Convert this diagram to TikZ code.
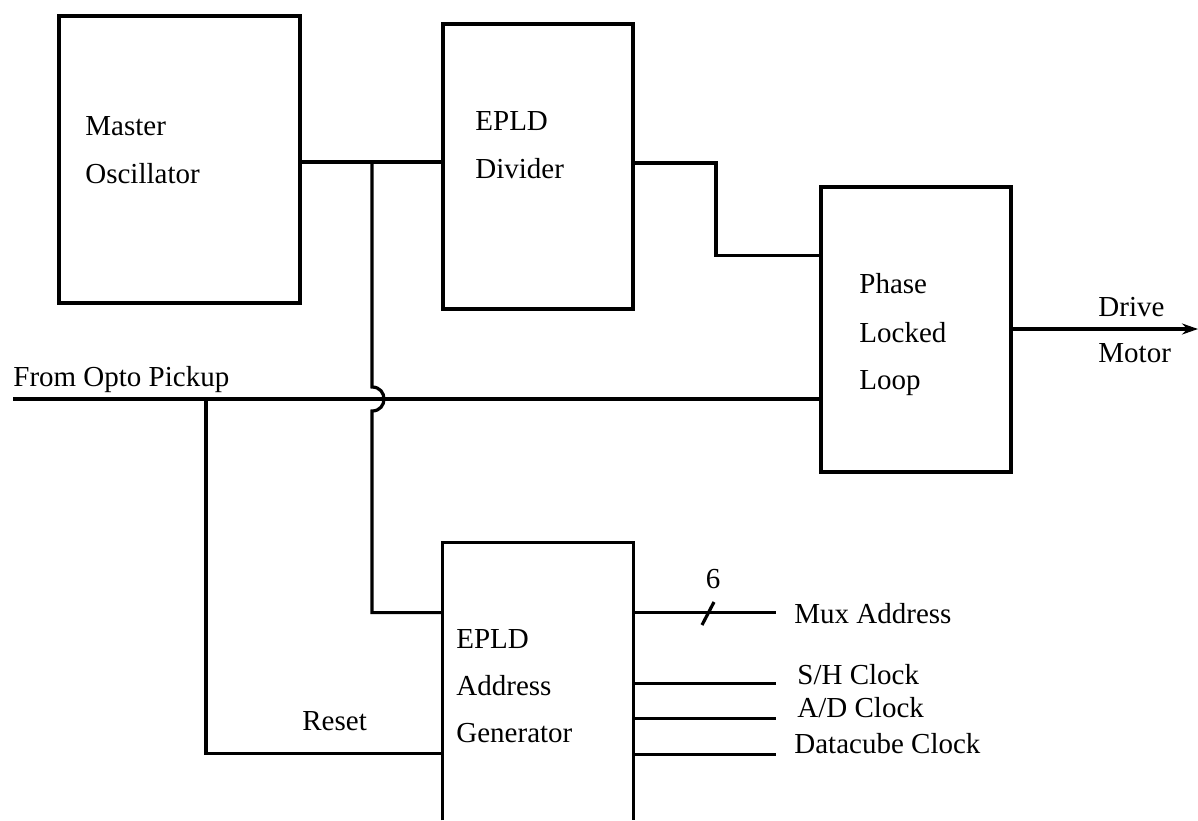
\documentclass[tikz,border=0pt]{standalone}
\usepackage{fontspec}
\setmainfont{Liberation Serif}
\usepackage{tikz}
\usetikzlibrary{positioning,arrows.meta}
\tikzset{
  blk/.style={rectangle, draw=black, line width=1.6pt, inner sep=0pt},
  openblk/.style={rectangle, inner sep=0pt},
  lbl/.style={anchor=base west, inner sep=0pt, font=\fontsize{14.5}{16}\selectfont},
  wire/.style={draw=black, line width=1.6pt},
  outw/.style={draw=black, line width=1.6pt, -{Stealth[length=8pt,width=5.5pt]}},
  hop/.style={draw=black, line width=1.6pt}
}

\begin{document}
\begin{tikzpicture}[x=0.5pt, y=-0.5pt]
  \useasboundingbox (0,0) rectangle (1198,820);
  % blocks
  \node[blk, minimum width=120.5pt, minimum height=143.5pt] (osc) at (179.5,159.5) {};
  \node[blk, minimum width=95pt, minimum height=142.5pt] (div) at (538,166.5) {};
  \node[blk, minimum width=95pt, minimum height=142.5pt] (pll) at (916,329.5) {};
  \node[openblk, minimum width=95pt, minimum height=138.5pt] (agen) at (538,681.5) {};
  \draw[wire] (agen.south west) -- (agen.north west) -- (agen.north east) -- (agen.south east);
  % block texts
  \node[lbl] (oscA) at (85,135) {Master};
  \node[lbl] (oscB) at (85,183) {Oscillator};
  \node[lbl] (divA) at (475,130) {EPLD};
  \node[lbl] (divB) at (475,178) {Divider};
  \node[lbl] (pllA) at (859,293) {Phase};
  \node[lbl] (pllB) at (859,342) {Locked};
  \node[lbl] (pllC) at (859,389) {Loop};
  \node[lbl] (agA) at (456,648) {EPLD};
  \node[lbl] (agB) at (456,695) {Address};
  \node[lbl] (agC) at (456,742) {Generator};
  % signal names
  \node[lbl] (drv) at (1098,316) {Drive};
  \node[lbl] (mot) at (1098,362) {Motor};
  \node[lbl] (opto) at (13,386) {From Opto Pickup};
  \node[lbl] (rst) at (302,730) {Reset};
  \node[lbl, anchor=base] (bus) at (713,588) {6};
  \node[lbl] (mux) at (794,623) {Mux Address};
  \node[lbl] (sh) at (797,684) {S/H Clock};
  \node[lbl] (ad) at (797,717) {A/D Clock};
  \node[lbl] (dc) at (794,753) {Datacube Clock};
  % junctions
  \coordinate (tap) at (372,162);
  \coordinate (optoin) at (13,399);
  \coordinate (rtap) at (206,399);
  \coordinate (hopT) at (372,387);
  \coordinate (hopB) at (372,411);
  \coordinate (bend) at (716,163);
  \coordinate (motor) at (1198,329);
  \coordinate (slash) at (708,613);
  % wires
  \draw[wire] (osc.east |- tap) -- (tap -| div.west);
  \draw[hop] (tap) -- (hopT) .. controls +(16,0) and +(16,0) .. (hopB)
    |- ([yshift=-35pt]agen.north west);
  \draw[wire] (div.east |- bend) -- (bend) |- ([yshift=-35pt]pll.north west);
  \draw[wire] (optoin) -- (optoin -| pll.west);
  \draw[wire] (rtap) |- ([yshift=-105.5pt]agen.north west);
  \draw[outw] (pll.east |- motor) -- (motor);
  \draw[wire] ([yshift=-35pt]agen.north east) -- ++(143,0);
  \foreach \dy in {70.5,88,106}
    \draw[wire] ([yshift=-\dy pt]agen.north east) -- ++(143,0);
  \draw[wire] (slash) ++(-6,12) -- ++(12,-23);
\end{tikzpicture}
\end{document}
